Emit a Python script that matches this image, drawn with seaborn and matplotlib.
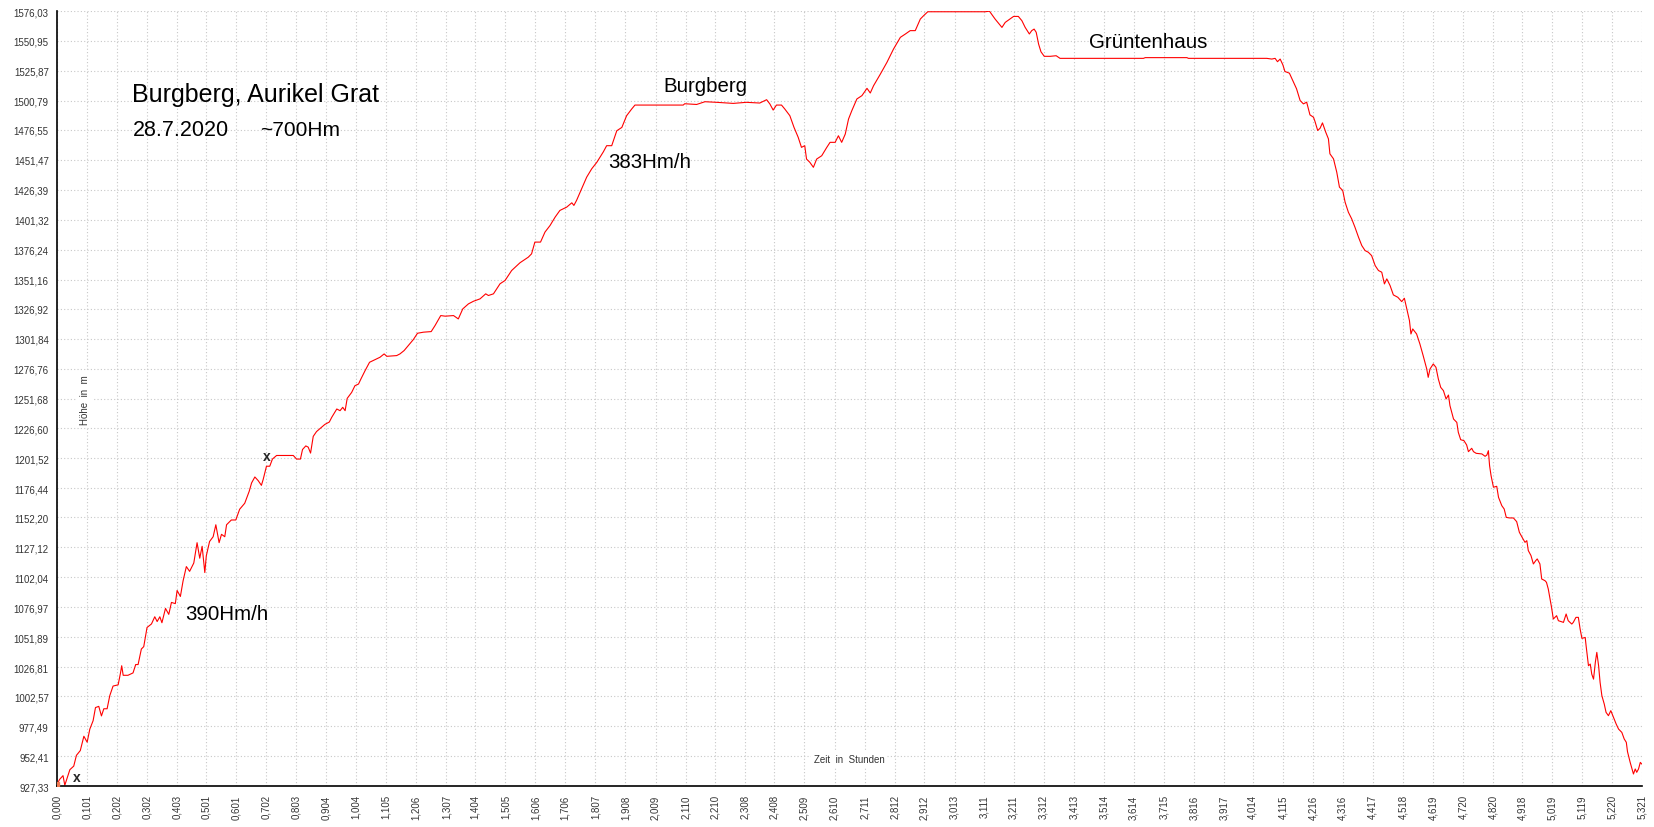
"""
Höhenprofil Burgberg / Aurikel Grat, 28.7.2020
"""

import matplotlib
matplotlib.use("Agg")
import matplotlib.pyplot as plt
import seaborn as sns

# ------------------------------------------------------------
# Daten: Zeit in Stunden / Höhe in m (vom Track abgelesen)
# ------------------------------------------------------------
stunden = [
    0.000, 0.009, 0.020, 0.026, 0.043, 0.056, 0.065, 0.078, 0.090, 0.101,
    0.110, 0.121, 0.129, 0.140, 0.149, 0.157, 0.168, 0.177, 0.188, 0.205,
    0.213, 0.217, 0.222, 0.238, 0.255, 0.264, 0.272, 0.283, 0.291, 0.302,
    0.317, 0.328, 0.336, 0.345, 0.352, 0.364, 0.375, 0.384, 0.397, 0.403,
    0.414, 0.423, 0.434, 0.445, 0.459, 0.470, 0.479, 0.487, 0.496, 0.501,
    0.512, 0.524, 0.533, 0.544, 0.552, 0.563, 0.569, 0.585, 0.600, 0.613,
    0.630, 0.645, 0.653, 0.664, 0.675, 0.686, 0.692, 0.703, 0.714, 0.723,
    0.737, 0.759, 0.793, 0.804, 0.817, 0.824, 0.835, 0.843, 0.851, 0.860,
    0.871, 0.899, 0.914,
    0.922, 0.939, 0.950, 0.959, 0.967, 0.974, 0.989, 1.000, 1.012, 1.020,
    1.034, 1.049, 1.067, 1.084, 1.098, 1.107, 1.140, 1.151, 1.165, 1.179,
    1.196, 1.210, 1.230, 1.256, 1.269, 1.288, 1.303, 1.331, 1.347, 1.362,
    1.381, 1.398, 1.420, 1.439, 1.448, 1.465, 1.487, 1.504, 1.526, 1.554,
    1.582, 1.593, 1.604, 1.623, 1.638, 1.655, 1.672, 1.688, 1.711, 1.728,
    1.735, 1.744, 1.761, 1.778, 1.795,
    1.812, 1.834, 1.845, 1.862, 1.879, 1.896, 1.912, 1.929, 1.940, 2.001,
    2.102, 2.107, 2.147, 2.175, 2.214, 2.270, 2.314, 2.359, 2.382, 2.393,
    2.404, 2.415, 2.432, 2.443, 2.460, 2.474, 2.488, 2.499, 2.510, 2.516,
    2.527, 2.539, 2.550, 2.567, 2.584, 2.595, 2.612, 2.623, 2.634, 2.646,
    2.657, 2.668, 2.685, 2.702, 2.719, 2.730, 2.741, 2.764, 2.786, 2.808,
    2.831, 2.848, 2.864, 2.881, 2.898, 2.909, 2.923, 3.021, 3.116,
    3.130, 3.149, 3.160, 3.172, 3.183, 3.199, 3.211, 3.227, 3.239, 3.250,
    3.264, 3.272, 3.280, 3.287, 3.295, 3.303, 3.314, 3.334, 3.354, 3.367,
    3.647, 3.653, 3.793, 3.798, 4.061, 4.078, 4.089,
    4.097, 4.106, 4.115, 4.122, 4.137, 4.148, 4.161, 4.173, 4.184, 4.195,
    4.206, 4.218, 4.223, 4.232, 4.240, 4.248, 4.259, 4.268, 4.273, 4.285,
    4.296, 4.305, 4.316, 4.324, 4.335, 4.346, 4.357, 4.369, 4.380, 4.391,
    4.402, 4.413, 4.425, 4.436, 4.447, 4.456, 4.464, 4.475, 4.486, 4.501,
    4.514, 4.523, 4.531, 4.540, 4.545, 4.551, 4.564, 4.575, 4.586, 4.598,
    4.603, 4.609, 4.620, 4.629, 4.637, 4.645, 4.654, 4.663, 4.671,
    4.676, 4.688, 4.699, 4.704, 4.712, 4.723, 4.732, 4.738, 4.749, 4.755,
    4.764, 4.783, 4.794, 4.800, 4.805, 4.809, 4.814, 4.822, 4.833, 4.839,
    4.850, 4.858, 4.865, 4.876, 4.889, 4.900, 4.909, 4.920, 4.928, 4.934,
    4.939, 4.948, 4.956, 4.964, 4.969, 4.978, 4.984, 4.995, 5.000, 5.006,
    5.012, 5.017, 5.023, 5.034, 5.040, 5.057, 5.066, 5.073, 5.085, 5.090,
    5.099, 5.107, 5.113, 5.119, 5.130, 5.133, 5.141, 5.147, 5.152, 5.158,
    5.164, 5.169, 5.175, 5.180, 5.186, 5.194, 5.200, 5.208, 5.216, 5.225,
    5.234, 5.242, 5.253, 5.261, 5.268, 5.272, 5.281, 5.292, 5.298, 5.303,
    5.309, 5.315, 5.320,
]

hoehe = [
    929.0, 933.0, 936.0, 928.0, 941.0, 944.0, 953.0, 957.0, 969.0, 964.0,
    975.0, 982.0, 993.0, 994.0, 986.0, 992.0, 992.0, 1003.0, 1011.0, 1012.0,
    1022.0, 1028.0, 1020.0, 1020.0, 1022.0, 1029.0, 1029.0, 1042.0, 1044.0, 1060.0,
    1063.0, 1069.0, 1065.0, 1069.0, 1064.0, 1076.0, 1071.0, 1081.0, 1080.0, 1091.0,
    1086.0, 1099.0, 1111.0, 1107.0, 1114.0, 1131.0, 1118.0, 1128.0, 1106.0, 1120.0,
    1132.0, 1136.0, 1146.0, 1131.0, 1138.0, 1136.0, 1146.0, 1150.0, 1150.0, 1159.0,
    1164.0, 1174.0, 1181.0, 1186.0, 1183.0, 1179.0, 1184.0, 1195.0, 1195.0, 1201.0,
    1204.0, 1204.0, 1204.0, 1201.0, 1201.0, 1209.0, 1212.0, 1211.0, 1206.0, 1220.0,
    1224.0, 1230.0, 1232.0,
    1235.9, 1242.9, 1241.5, 1244.3, 1241.5, 1251.8, 1256.8, 1262.4, 1263.8, 1268.0,
    1275.0, 1282.0, 1284.2, 1286.2, 1289.0, 1287.0, 1287.6, 1289.0, 1291.8, 1296.0,
    1301.0, 1306.3, 1307.2, 1307.7, 1312.8, 1321.1, 1320.6, 1321.1, 1318.3, 1326.7,
    1330.9, 1333.1, 1335.1, 1339.3, 1337.9, 1339.3, 1347.7, 1350.5, 1358.8, 1365.3,
    1370.0, 1372.8, 1382.6, 1382.6, 1391.0, 1396.5, 1403.5, 1409.1, 1411.9, 1415.5,
    1413.3, 1417.5, 1427.3, 1437.0, 1444.0,
    1449.4, 1458.2, 1463.3, 1463.3, 1475.8, 1478.6, 1488.4, 1494.0, 1497.3, 1497.3,
    1497.3, 1498.4, 1497.8, 1500.1, 1499.6, 1498.7, 1499.6, 1499.0, 1501.8, 1498.2,
    1493.1, 1497.3, 1497.3, 1494.0, 1488.4, 1478.6, 1470.3, 1461.9, 1463.3, 1452.1,
    1449.4, 1445.2, 1452.1, 1454.9, 1461.9, 1466.1, 1466.1, 1471.6, 1466.1, 1473.0,
    1485.6, 1492.6, 1502.4, 1505.2, 1511.3, 1507.4, 1513.5, 1523.3, 1533.1, 1544.2,
    1554.0, 1556.8, 1559.6, 1559.6, 1569.3, 1572.1, 1575.4, 1575.4, 1575.4,
    1575.9, 1569.3, 1566.0, 1562.3, 1566.5, 1569.3, 1571.5, 1571.5, 1567.9, 1562.3,
    1556.8, 1559.6, 1560.9, 1558.2, 1548.4, 1541.9, 1538.1, 1538.1, 1538.6, 1536.4,
    1536.4, 1537.0, 1537.0, 1536.4, 1536.4, 1535.8, 1536.4,
    1533.6, 1535.8, 1531.0, 1525.4, 1524.0, 1517.9, 1510.9, 1501.1, 1498.3, 1499.7,
    1489.1, 1487.1, 1483.5, 1476.0, 1477.9, 1482.4, 1474.6, 1469.0, 1456.5, 1452.3,
    1441.1, 1428.6, 1425.8, 1416.0, 1407.6, 1402.1, 1395.1, 1386.7, 1379.7, 1375.5,
    1374.1, 1371.3, 1362.9, 1358.8, 1357.4, 1347.6, 1351.8, 1346.2, 1338.4, 1336.4,
    1332.8, 1335.6, 1326.6, 1316.9, 1305.7, 1309.9, 1305.7, 1297.4, 1287.6, 1276.4,
    1269.4, 1276.4, 1280.6, 1277.8, 1268.0, 1261.0, 1258.3, 1251.3, 1254.6,
    1245.7, 1234.5, 1231.7, 1223.4, 1217.2, 1216.4, 1212.8, 1207.2, 1210.0, 1207.2,
    1205.8, 1205.3, 1203.3, 1204.4, 1208.0, 1195.5, 1187.1, 1177.4, 1178.2, 1169.0,
    1162.0, 1159.2, 1152.2, 1151.7, 1151.7, 1148.6, 1139.7, 1134.7, 1131.3, 1132.7,
    1124.4, 1120.2, 1113.2, 1116.0, 1117.4, 1113.2, 1100.6, 1099.2, 1097.8, 1092.3,
    1083.9, 1076.9, 1067.1, 1069.9, 1065.7, 1064.3, 1071.3, 1065.7, 1062.9, 1064.3,
    1068.5, 1068.5, 1058.7, 1050.9, 1051.7, 1044.8, 1028.0, 1029.4, 1021.0, 1016.8,
    1030.8, 1039.2, 1028.0, 1014.1, 1002.9, 995.9, 989.0, 986.2, 990.4, 984.8,
    979.2, 975.0, 972.2, 966.7, 963.9, 956.1, 947.1, 937.4, 941.6, 938.8,
    941.6, 947.1, 945.7,
]

x_ticks = [
    "0,000", "0,101", "0,202", "0,302", "0,403", "0,501", "0,601", "0,702",
    "0,803", "0,904", "1,004", "1,105", "1,206", "1,307", "1,404", "1,505",
    "1,606", "1,706", "1,807", "1,908", "2,009", "2,110", "2,210", "2,308",
    "2,408", "2,509", "2,610", "2,711", "2,812", "2,912", "3,013", "3,111",
    "3,211", "3,312", "3,413", "3,514", "3,614", "3,715", "3,816", "3,917",
    "4,014", "4,115", "4,216", "4,316", "4,417", "4,518", "4,619", "4,720",
    "4,820", "4,918", "5,019", "5,119", "5,220", "5,321",
]

y_ticks = [
    "927,33", "952,41", "977,49", "1002,57", "1026,81", "1051,89", "1076,97",
    "1102,04", "1127,12", "1152,20", "1176,44", "1201,52", "1226,60", "1251,68",
    "1276,76", "1301,84", "1326,92", "1351,16", "1376,24", "1401,32", "1426,39",
    "1451,47", "1476,55", "1500,79", "1525,87", "1550,95", "1576,03",
]

# Beschriftungen im Diagramm: (Text, Stunde, Höhe, Schriftgröße)
notizen = [
    ("Burgberg, Aurikel Grat", 0.252, 1500.9, 18),
    ("28.7.2020", 0.255, 1472.5, 15.5),
    ("~700Hm", 0.681, 1472.5, 15),
    ("390Hm/h", 0.430, 1067.1, 14.8),
    ("383Hm/h", 1.850, 1445.4, 14.8),
    ("Burgberg", 2.034, 1509.3, 14.7),
    ("Grüntenhaus", 3.465, 1546.1, 14.8),
]
marken = [(0.067, 934.9), (0.705, 1203.5)]

# ------------------------------------------------------------
# Plot
# ------------------------------------------------------------
sns.set_style("white")
plt.rcParams['font.family'] = ['Liberation Sans', 'DejaVu Sans']

fig = plt.figure(figsize=(16.54, 8.28), dpi=100)
ax = fig.add_axes([0.0345, 0.0495, 0.9583, 0.936])

sns.lineplot(x=stunden, y=hoehe, ax=ax, color='#ff0000', lw=0.8,
             estimator=None, sort=False)
ax.plot(stunden[:1], hoehe[:1], 's', color='#f07850', ms=3.5, zorder=5)

xt = [float(s.replace(',', '.')) for s in x_ticks]
yt = [float(s.replace(',', '.')) for s in y_ticks]
ax.set_xticks(xt, labels=x_ticks, rotation=90, fontsize=7, color='#333333')
ax.set_yticks(yt, labels=y_ticks, fontsize=7, color='#333333')
ax.set_xlim(xt[0], xt[-1])
ax.set_ylim(yt[0], yt[-1])
ax.set_xlabel('')
ax.set_ylabel('')

ax.grid(True, color='#c8c8c8', lw=0.8, linestyle=(0, (1, 2)))
ax.set_axisbelow(True)
for side in ['top', 'right']:
    ax.spines[side].set_visible(False)
for side in ['left', 'bottom']:
    ax.spines[side].set_color('black')
    ax.spines[side].set_linewidth(1.2)
ax.tick_params(axis='both', direction='out', length=4, width=1, color='black', pad=2)

for txt, xs, ys, fs in notizen:
    ax.text(xs, ys, txt, fontsize=fs, ha='left', va='baseline', color='black')
for xs, ys in marken:
    ax.text(xs, ys, 'x', fontsize=10, fontweight='bold', ha='center', va='center')

box = dict(facecolor='white', edgecolor='none', pad=2)
ax.text(0.094, 1251.2, 'Höhe  in  m', rotation=90, fontsize=7, color='#333333',
        ha='center', va='center', bbox=box)
ax.text(2.659, 949.9, 'Zeit  in  Stunden', fontsize=7, color='#333333',
        ha='center', va='center', bbox=box)

plt.savefig('out.png', dpi=100)
